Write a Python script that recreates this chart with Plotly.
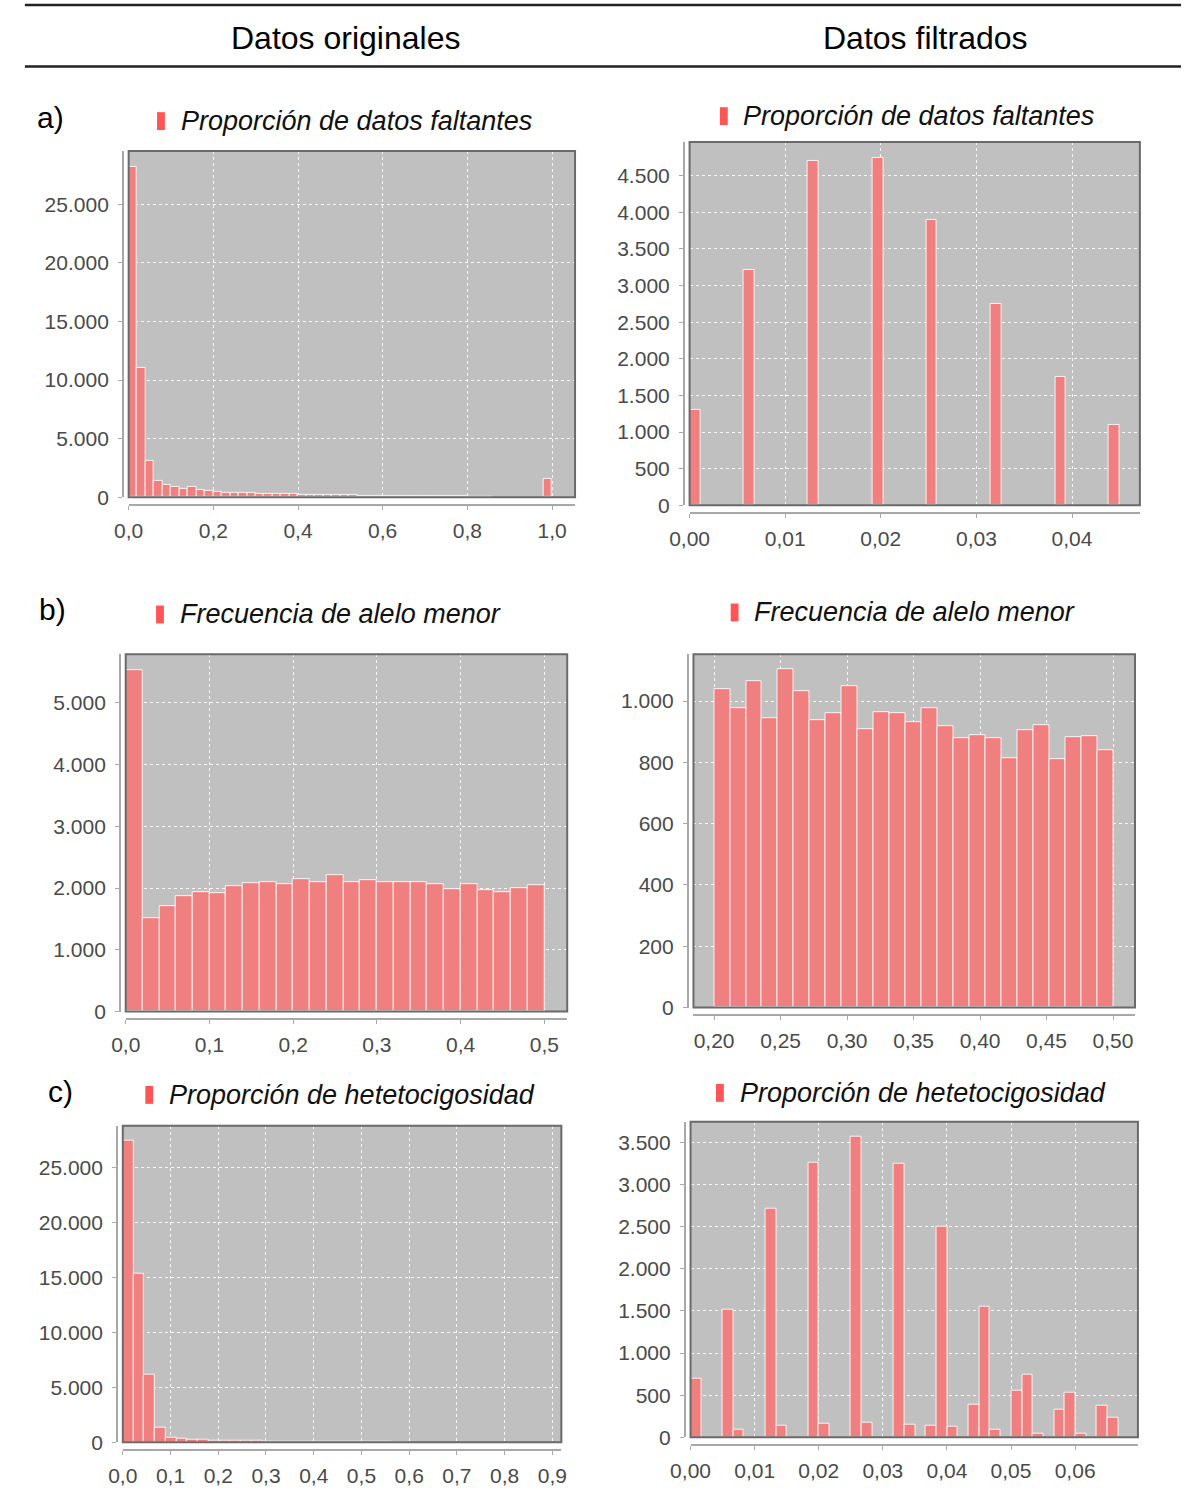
import plotly.graph_objects as go

# ---------------- histogram data (bin start, bin width, counts per bin) ----------------
# a) Proporción de datos faltantes
miss_orig_start, miss_orig_bin = 0.0, 0.02
miss_orig_counts = [28190, 11020, 3140, 1440, 1070, 880, 735, 880, 595, 510,
                    450, 420, 400, 390, 420, 320, 310, 300, 280, 260,
                    220, 210, 205, 200, 195, 185, 175, 165, 155, 150,
                    145, 140, 130, 125, 120, 110, 105, 100, 90, 85,
                    80, 70, 60, 0, 0, 0, 0, 0, 0, 1550]

miss_filt_start, miss_filt_bin = 0.0, 0.001125
miss_filt_counts = [1304, 0, 0, 0, 0, 3213, 0, 0, 0, 0,
                    0, 4694, 0, 0, 0, 0, 0, 4735, 0, 0,
                    0, 0, 3891, 0, 0, 0, 0, 0, 2753, 0,
                    0, 0, 0, 0, 1747, 0, 0, 0, 0, 1101]

# b) Frecuencia de alelo menor
maf_orig_start, maf_orig_bin = 0.0, 0.02
maf_orig_counts = [5523, 1512, 1705, 1866, 1930, 1920, 2038, 2080, 2091, 2064,
                   2145, 2091, 2214, 2102, 2123, 2091, 2102, 2091, 2064, 1984,
                   2064, 1973, 1930, 1995, 2054]

maf_filt_start, maf_filt_bin = 0.20, 0.012
maf_filt_counts = [1040, 976, 1065, 943, 1105, 1032, 938, 959, 1048, 909,
                   964, 959, 930, 978, 918, 880, 888, 879, 814, 906,
                   920, 810, 883, 886, 840]

# c) Proporción de heterocigosidad
het_orig_start, het_orig_bin = 0.0, 0.0225
het_orig_counts = [27460, 15380, 6160, 1300, 420, 330, 240, 210, 180, 160,
                   140, 120, 110, 100, 90, 80, 70, 60, 50, 45,
                   40, 30, 25, 20, 15, 10, 5, 0, 0, 0,
                   0, 0, 0, 0, 0, 0, 0, 0, 0, 0]

het_filt_start, het_filt_bin = 0.0, 0.0016688
het_filt_counts = [698, 0, 0, 1510, 90, 0, 0, 2714, 137, 0,
                   0, 3263, 165, 0, 0, 3569, 173, 0, 0, 3247,
                   145, 0, 137, 2494, 125, 0, 388, 1549, 86, 0,
                   557, 745, 47, 0, 329, 533, 39, 0, 380, 235]

column_titles = ["Datos originales", "Datos filtrados"]
row_labels = ["a)", "b)", "c)"]
series_names = ["Proporción de datos faltantes",
                "Frecuencia de alelo menor",
                "Proporción de hetetocigosidad"]

# ---------------- page geometry (pixels) ----------------
W, H = 1186, 1499
BAR_COLOR = "#F08080"
SWATCH_COLOR = "#FF5555"
PLOT_BG = "#C0C0C0"
AXIS_GRAY = "#A8A8A8"
FONT = "Liberation Sans, Arial, sans-serif"
TICK_FONT = dict(family=FONT, size=21, color="#4a4a4a")


def px(x):
    return x / W


def py(y):
    return 1 - y / H


panels = [
    dict(hist=(miss_orig_start, miss_orig_bin, miss_orig_counts), name=0,
         box=(111, 152, 567, 501), xr=[0, 1.0543], x0=0, xd=0.2, xf=".1f",
         yr=[0, 29550], yd=5000, legend=(140, 122)),
    dict(hist=(miss_filt_start, miss_filt_bin, miss_filt_counts), name=0,
         box=(684, 143, 1144, 509), xr=[0, 0.0471], x0=0, xd=0.01, xf=".2f",
         yr=[0, 4960], yd=500, legend=(715, 117)),
    dict(hist=(maf_orig_start, maf_orig_bin, maf_orig_counts), name=1,
         box=(108, 659, 559, 1019), xr=[0, 0.5272], x0=0, xd=0.1, xf=".1f",
         yr=[0, 5790], yd=1000, legend=(139, 619)),
    dict(hist=(maf_filt_start, maf_filt_bin, maf_filt_counts), name=1,
         box=(688, 659, 1139, 1015), xr=[0.1845, 0.5165], x0=0.2, xd=0.05, xf=".2f",
         yr=[0, 1153], yd=200, legend=(726, 617)),
    dict(hist=(het_orig_start, het_orig_bin, het_orig_counts), name=2,
         box=(105, 1134, 553, 1453), xr=[0, 0.9187], x0=0, xd=0.1, xf=".1f",
         yr=[0, 28850], yd=5000, legend=(128, 1103)),
    dict(hist=(het_filt_start, het_filt_bin, het_filt_counts), name=2,
         box=(685, 1130, 1142, 1448), xr=[0, 0.0698], x0=0, xd=0.01, xf=".2f",
         yr=[0, 3745], yd=500, legend=(711, 1101)),
]

fig = go.Figure()
shapes = []
annotations = []

for n, p in enumerate(panels, start=1):
    sfx = "" if n == 1 else str(n)
    start, width, counts = p["hist"]
    xs = [start + (i + 0.5) * width for i, c in enumerate(counts) if c > 0]
    ys = [c for c in counts if c > 0]
    fig.add_trace(go.Bar(
        x=xs, y=ys, width=width,
        marker=dict(color=BAR_COLOR, line=dict(color="rgba(255,255,255,0.85)", width=1)),
        xaxis="x" + sfx, yaxis="y" + sfx,
        name=series_names[p["name"]], showlegend=False,
        hovertemplate="%{x}: %{y}<extra></extra>",
    ))

    x0, y0, x1, y1 = p["box"]
    fig.layout["xaxis" + sfx] = dict(
        domain=[px(x0), px(x1)], range=p["xr"], anchor="free", position=py(y1 + 8),
        tick0=p["x0"], dtick=p["xd"], tickformat=p["xf"], tickangle=0,
        showline=True, linecolor=AXIS_GRAY, linewidth=1.5,
        ticks="outside", ticklen=4, tickcolor=AXIS_GRAY, ticklabelstandoff=3,
        showgrid=True, gridcolor="rgba(255,255,255,0.85)", griddash="3px,3px", gridwidth=1,
        zeroline=False, tickfont=TICK_FONT, fixedrange=True,
    )
    fig.layout["yaxis" + sfx] = dict(
        domain=[py(y1), py(y0)], range=p["yr"], anchor="free", position=px(x0 - 6),
        tick0=0, dtick=p["yd"], tickformat=",d",
        showline=True, linecolor=AXIS_GRAY, linewidth=1.5,
        ticks="outside", ticklen=4, tickcolor=AXIS_GRAY, ticklabelstandoff=5,
        showgrid=True, gridcolor="rgba(255,255,255,0.85)", griddash="3px,3px", gridwidth=1,
        zeroline=False, tickfont=TICK_FONT, fixedrange=True,
    )
    # plot frame
    shapes.append(dict(type="rect", xref="x" + sfx + " domain", yref="y" + sfx + " domain",
                       x0=0, x1=1, y0=0, y1=1, line=dict(color="#6a6a6a", width=2),
                       fillcolor="rgba(0,0,0,0)", layer="above"))
    # legend swatch + series name
    lx, ly = p["legend"]
    shapes.append(dict(type="rect", xref="paper", yref="paper",
                       x0=px(lx), x1=px(lx + 8), y0=py(ly + 9), y1=py(ly - 9),
                       fillcolor=SWATCH_COLOR, line=dict(width=0)))
    annotations.append(dict(text="<i>" + series_names[p["name"]] + "</i>",
                            xref="paper", yref="paper", x=px(lx + 22), y=py(ly),
                            xanchor="left", yanchor="middle", showarrow=False,
                            font=dict(family=FONT, size=27, color="#111111")))

# header rules and column titles
for yline in (5, 67):
    shapes.append(dict(type="line", xref="paper", yref="paper",
                       x0=px(5), x1=1, y0=py(yline), y1=py(yline),
                       line=dict(color="#222222", width=2.5)))
for title, cx in zip(column_titles, (333, 925)):
    annotations.append(dict(text=title, xref="paper", yref="paper", x=px(cx), y=py(38),
                            xanchor="center", yanchor="middle", showarrow=False,
                            font=dict(family=FONT, size=32, color="#000000")))

# row labels
for lab, (lx, ly) in zip(row_labels, [(15, 118), (17, 614), (27, 1100)]):
    annotations.append(dict(text=lab, xref="paper", yref="paper", x=px(lx), y=py(ly),
                            xanchor="left", yanchor="middle", showarrow=False,
                            font=dict(family=FONT, size=30, color="#000000")))

fig.update_layout(
    width=W, height=H,
    margin=dict(l=0, r=0, t=0, b=0),
    paper_bgcolor="white", plot_bgcolor=PLOT_BG,
    separators=",.", bargap=0,
    shapes=shapes, annotations=annotations,
)

fig.write_html(
    "out.html",
    post_script="document.body.style.margin='0';document.body.style.overflow='hidden';",
)
